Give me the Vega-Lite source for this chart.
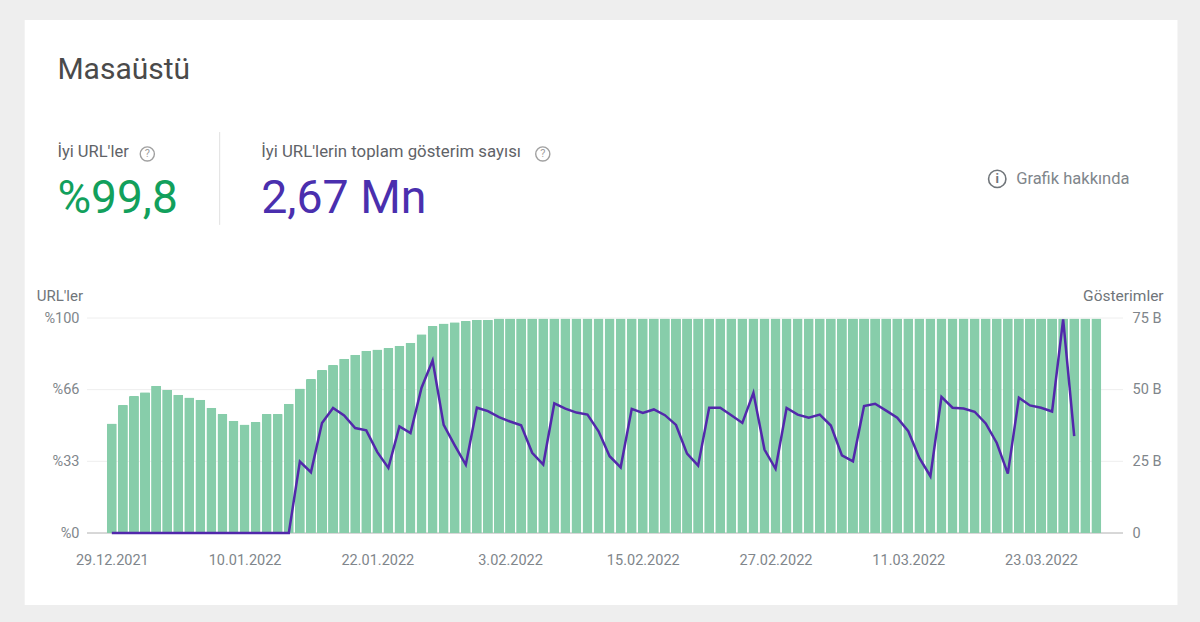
{
  "$schema": "https://vega.github.io/schema/vega-lite/v6.json",
  "autosize": "none",
  "width": 1036,
  "height": 215,
  "padding": {"left": 87, "right": 77, "top": 318, "bottom": 89},
  "background": "#eeeeee",
  "config": {"view": {"stroke": null}, "font": "Roboto"},
  "datasets": {
    "days": [
      {"date":"2021/12/29","urls":50.9,"impressions":0},{"date":"2021/12/30","urls":59.5,"impressions":0},{"date":"2021/12/31","urls":63.7,"impressions":0},
      {"date":"2022/01/01","urls":65.5,"impressions":0},{"date":"2022/01/02","urls":68.5,"impressions":0},{"date":"2022/01/03","urls":66.6,"impressions":0},
      {"date":"2022/01/04","urls":64.3,"impressions":0},{"date":"2022/01/05","urls":63,"impressions":0},{"date":"2022/01/06","urls":62,"impressions":0},
      {"date":"2022/01/07","urls":58.2,"impressions":0},{"date":"2022/01/08","urls":55.3,"impressions":0},{"date":"2022/01/09","urls":52.2,"impressions":0},
      {"date":"2022/01/10","urls":50.5,"impressions":0},{"date":"2022/01/11","urls":51.6,"impressions":0},{"date":"2022/01/12","urls":55.3,"impressions":0},
      {"date":"2022/01/13","urls":55.3,"impressions":0},{"date":"2022/01/14","urls":60.1,"impressions":0},{"date":"2022/01/15","urls":67.2,"impressions":24.9},
      {"date":"2022/01/16","urls":71.6,"impressions":21.2},{"date":"2022/01/17","urls":75.8,"impressions":38.4},{"date":"2022/01/18","urls":78.1,"impressions":43.6},
      {"date":"2022/01/19","urls":81,"impressions":41},{"date":"2022/01/20","urls":82.9,"impressions":36.6},{"date":"2022/01/21","urls":84.8,"impressions":35.8},
      {"date":"2022/01/22","urls":85.4,"impressions":28.2},{"date":"2022/01/23","urls":86,"impressions":22.7},{"date":"2022/01/24","urls":87.1,"impressions":37.2},
      {"date":"2022/01/25","urls":88.5,"impressions":34.9},{"date":"2022/01/26","urls":92.5,"impressions":50.7},{"date":"2022/01/27","urls":96.3,"impressions":60.2},
      {"date":"2022/01/28","urls":97.4,"impressions":37.7},{"date":"2022/01/29","urls":98,"impressions":30.6},{"date":"2022/01/30","urls":98.6,"impressions":23.8},
      {"date":"2022/01/31","urls":99.2,"impressions":43.7},{"date":"2022/02/01","urls":99.2,"impressions":42.5},{"date":"2022/02/02","urls":99.8,"impressions":40.4},
      {"date":"2022/02/03","urls":99.8,"impressions":38.9},{"date":"2022/02/04","urls":99.8,"impressions":37.6},{"date":"2022/02/05","urls":99.8,"impressions":28},
      {"date":"2022/02/06","urls":99.8,"impressions":23.9},{"date":"2022/02/07","urls":99.8,"impressions":45.2},{"date":"2022/02/08","urls":99.8,"impressions":43.4},
      {"date":"2022/02/09","urls":99.8,"impressions":42},{"date":"2022/02/10","urls":99.8,"impressions":41.3},{"date":"2022/02/11","urls":99.8,"impressions":35.5},
      {"date":"2022/02/12","urls":99.8,"impressions":26.8},{"date":"2022/02/13","urls":99.8,"impressions":22.9},{"date":"2022/02/14","urls":99.8,"impressions":43.3},
      {"date":"2022/02/15","urls":99.8,"impressions":41.9},{"date":"2022/02/16","urls":99.8,"impressions":43.1},{"date":"2022/02/17","urls":99.8,"impressions":41.1},
      {"date":"2022/02/18","urls":99.8,"impressions":37.7},{"date":"2022/02/19","urls":99.8,"impressions":27.7},{"date":"2022/02/20","urls":99.8,"impressions":23.5},
      {"date":"2022/02/21","urls":99.8,"impressions":43.7},{"date":"2022/02/22","urls":99.8,"impressions":43.7},{"date":"2022/02/23","urls":99.8,"impressions":41.1},
      {"date":"2022/02/24","urls":99.8,"impressions":38.4},{"date":"2022/02/25","urls":99.8,"impressions":48.9},{"date":"2022/02/26","urls":99.8,"impressions":29.1},
      {"date":"2022/02/27","urls":99.8,"impressions":22.4},{"date":"2022/02/28","urls":99.8,"impressions":43.6},{"date":"2022/03/01","urls":99.8,"impressions":41.3},
      {"date":"2022/03/02","urls":99.8,"impressions":40.2},{"date":"2022/03/03","urls":99.8,"impressions":41.3},{"date":"2022/03/04","urls":99.8,"impressions":37.5},
      {"date":"2022/03/05","urls":99.8,"impressions":27.1},{"date":"2022/03/06","urls":99.8,"impressions":25},{"date":"2022/03/07","urls":99.8,"impressions":44.3},
      {"date":"2022/03/08","urls":99.8,"impressions":45.1},{"date":"2022/03/09","urls":99.8,"impressions":42.7},{"date":"2022/03/10","urls":99.8,"impressions":40.2},
      {"date":"2022/03/11","urls":99.8,"impressions":35.5},{"date":"2022/03/12","urls":99.8,"impressions":26.2},{"date":"2022/03/13","urls":99.8,"impressions":19.8},
      {"date":"2022/03/14","urls":99.8,"impressions":47.5},{"date":"2022/03/15","urls":99.8,"impressions":43.7},{"date":"2022/03/16","urls":99.8,"impressions":43.4},
      {"date":"2022/03/17","urls":99.8,"impressions":42.3},{"date":"2022/03/18","urls":99.8,"impressions":38.2},{"date":"2022/03/19","urls":99.8,"impressions":31.4},
      {"date":"2022/03/20","urls":99.8,"impressions":20.7},{"date":"2022/03/21","urls":99.8,"impressions":47.2},{"date":"2022/03/22","urls":99.8,"impressions":44.5},
      {"date":"2022/03/23","urls":99.8,"impressions":43.7},{"date":"2022/03/24","urls":99.8,"impressions":42.4},{"date":"2022/03/25","urls":99.8,"impressions":74.5},
      {"date":"2022/03/26","urls":99.8,"impressions":33.8},{"date":"2022/03/27","urls":99.8,"impressions":null},{"date":"2022/03/28","urls":99.8,"impressions":null}
    ]
  },
  "layer": [
    {
      "layer": [
        {
          "data": {"values": [{"name": "card"}]},
          "mark": {"type": "rect", "color": "white"},
          "encoding": {
            "x": {"datum": {"year": 2021, "month": 12, "date": 29, "hours": -189}, "type": "temporal"},
            "x2": {"datum": {"year": 2021, "month": 12, "date": 29, "hours": 2312}},
            "y": {"datum": 238.6, "type": "quantitative"},
            "y2": {"datum": -33.5}
          }
        },
        {
          "data": {"values": [{"tick": 33.33}, {"tick": 66.67}, {"tick": 100}]},
          "mark": {"type": "rule", "color": "#eeeeee", "strokeWidth": 1},
          "encoding": {"y": {"field": "tick", "type": "quantitative"}}
        },
        {
          "data": {"values": [{"tick": 0}]},
          "mark": {"type": "rule", "color": "#b0b0b0", "strokeWidth": 1},
          "encoding": {"y": {"field": "tick", "type": "quantitative"}}
        },
        {
          "data": {"name": "days"},
          "mark": {"type": "bar", "color": "#87cdaa", "size": 10, "cornerRadiusTopLeft": 1, "cornerRadiusTopRight": 1},
          "encoding": {
            "x": {
              "field": "date",
              "type": "temporal",
              "title": null,
              "scale": {"nice": false, "domain": [{"year": 2021, "month": 12, "date": 29, "hours": -43}, {"year": 2021, "month": 12, "date": 29, "hours": 2183}]},
              "axis": {
                "zindex": 1,
                "grid": false,
                "domain": false,
                "ticks": false,
                "labelPadding": 20,
                "labelFont": "Roboto",
                "labelFontSize": 14.5,
                "labelColor": "#80868b",
                "labelOverlap": false,
                "format": "%-d.%m.%Y",
                "values": [
                  {"year": 2021, "month": 12, "date": 29},
                  {"year": 2022, "month": 1, "date": 10},
                  {"year": 2022, "month": 1, "date": 22},
                  {"year": 2022, "month": 2, "date": 3},
                  {"year": 2022, "month": 2, "date": 15},
                  {"year": 2022, "month": 2, "date": 27},
                  {"year": 2022, "month": 3, "date": 11},
                  {"year": 2022, "month": 3, "date": 23}
                ]
              }
            },
            "y": {
              "field": "urls",
              "type": "quantitative",
              "title": null,
              "scale": {"domain": [0, 100], "nice": false},
              "axis": {
                "zindex": 1,
                "grid": false,
                "domain": false,
                "ticks": false,
                "labelPadding": 8,
                "labelFont": "Roboto",
                "labelFontSize": 14.5,
                "labelColor": "#80868b",
                "values": [0, 33.33, 66.67, 100],
                "labelExpr": "'%' + floor(datum.value)"
              }
            }
          }
        },
        {
          "data": {"values": [{"name": "divider"}]},
          "mark": {"type": "rule", "color": "#e0e0e0", "strokeWidth": 1},
          "encoding": {
            "x": {"datum": {"year": 2021, "month": 12, "date": 29, "hours": 234}, "type": "temporal"},
            "y": {"datum": 186.5, "type": "quantitative"},
            "y2": {"datum": 143.3}
          }
        },
        {
          "data": {"values": [{"label": "Masaüstü"}]},
          "mark": {"type": "text", "align": "left", "baseline": "middle", "font": "Roboto", "fontSize": 30, "color": "#4a4a4a"},
          "encoding": {
            "text": {"field": "label"},
            "x": {"datum": {"year": 2021, "month": 12, "date": 29, "hours": -118}, "type": "temporal"},
            "y": {"datum": 215.3, "type": "quantitative"}
          }
        },
        {
          "data": {"values": [{"label": "İyi URL'ler"}]},
          "mark": {"type": "text", "align": "left", "baseline": "middle", "font": "Roboto", "fontSize": 16.5, "color": "#5f6368"},
          "encoding": {
            "text": {"field": "label"},
            "x": {"datum": {"year": 2021, "month": 12, "date": 29, "hours": -118}, "type": "temporal"},
            "y": {"datum": 177.2, "type": "quantitative"}
          }
        },
        {
          "data": {"values": [{"label": "%99,8"}]},
          "mark": {"type": "text", "align": "left", "baseline": "middle", "font": "Roboto", "fontSize": 46, "color": "#12a05c"},
          "encoding": {
            "text": {"field": "label"},
            "x": {"datum": {"year": 2021, "month": 12, "date": 29, "hours": -118}, "type": "temporal"},
            "y": {"datum": 155.3, "type": "quantitative"}
          }
        },
        {
          "data": {"values": [{"label": "İyi URL'lerin toplam gösterim sayısı"}]},
          "mark": {"type": "text", "align": "left", "baseline": "middle", "font": "Roboto", "fontSize": 16.8, "color": "#5f6368"},
          "encoding": {
            "text": {"field": "label"},
            "x": {"datum": {"year": 2021, "month": 12, "date": 29, "hours": 324}, "type": "temporal"},
            "y": {"datum": 177.2, "type": "quantitative"}
          }
        },
        {
          "data": {"values": [{"label": "2,67 Mn"}]},
          "mark": {"type": "text", "align": "left", "baseline": "middle", "font": "Roboto", "fontSize": 46.5, "color": "#4a2fae"},
          "encoding": {
            "text": {"field": "label"},
            "x": {"datum": {"year": 2021, "month": 12, "date": 29, "hours": 324}, "type": "temporal"},
            "y": {"datum": 155.3, "type": "quantitative"}
          }
        },
        {
          "data": {"values": [{"label": "Grafik hakkında"}]},
          "mark": {"type": "text", "align": "left", "baseline": "middle", "font": "Roboto", "fontSize": 16.5, "color": "#80868b"},
          "encoding": {
            "text": {"field": "label"},
            "x": {"datum": {"year": 2021, "month": 12, "date": 29, "hours": 1962}, "type": "temporal"},
            "y": {"datum": 164.7, "type": "quantitative"}
          }
        },
        {
          "data": {"values": [{"label": "URL'ler"}]},
          "mark": {"type": "text", "align": "left", "baseline": "middle", "font": "Roboto", "fontSize": 15, "color": "#70757a"},
          "encoding": {
            "text": {"field": "label"},
            "x": {"datum": {"year": 2021, "month": 12, "date": 29, "hours": -163}, "type": "temporal"},
            "y": {"datum": 110.2, "type": "quantitative"}
          }
        },
        {
          "data": {"values": [{"label": "Gösterimler"}]},
          "mark": {"type": "text", "align": "right", "baseline": "middle", "font": "Roboto", "fontSize": 15.5, "color": "#70757a"},
          "encoding": {
            "text": {"field": "label"},
            "x": {"datum": {"year": 2021, "month": 12, "date": 29, "hours": 2282}, "type": "temporal"},
            "y": {"datum": 110.2, "type": "quantitative"}
          }
        },
        {
          "data": {"values": [{"icon": "?"}]},
          "mark": {"type": "point", "shape": "circle", "size": 200, "filled": false, "color": "#a0a0a0", "strokeWidth": 1.4, "opacity": 1},
          "encoding": {
            "x": {"datum": {"year": 2021, "month": 12, "date": 29, "hours": 77}, "type": "temporal"},
            "y": {"datum": 176.3, "type": "quantitative"}
          }
        },
        {
          "data": {"values": [{"icon": "?"}]},
          "mark": {"type": "text", "align": "center", "baseline": "middle", "font": "Roboto", "fontSize": 11, "color": "#a0a0a0"},
          "encoding": {
            "text": {"field": "icon"},
            "x": {"datum": {"year": 2021, "month": 12, "date": 29, "hours": 77}, "type": "temporal"},
            "y": {"datum": 176.3, "type": "quantitative"}
          }
        },
        {
          "data": {"values": [{"icon": "?"}]},
          "mark": {"type": "point", "shape": "circle", "size": 200, "filled": false, "color": "#a0a0a0", "strokeWidth": 1.4, "opacity": 1},
          "encoding": {
            "x": {"datum": {"year": 2021, "month": 12, "date": 29, "hours": 935}, "type": "temporal"},
            "y": {"datum": 176.3, "type": "quantitative"}
          }
        },
        {
          "data": {"values": [{"icon": "?"}]},
          "mark": {"type": "text", "align": "center", "baseline": "middle", "font": "Roboto", "fontSize": 11, "color": "#a0a0a0"},
          "encoding": {
            "text": {"field": "icon"},
            "x": {"datum": {"year": 2021, "month": 12, "date": 29, "hours": 935}, "type": "temporal"},
            "y": {"datum": 176.3, "type": "quantitative"}
          }
        },
        {
          "data": {"values": [{"icon": "i"}]},
          "mark": {"type": "point", "shape": "circle", "size": 300, "filled": false, "color": "#70757a", "strokeWidth": 1.6, "opacity": 1},
          "encoding": {
            "x": {"datum": {"year": 2021, "month": 12, "date": 29, "hours": 1921}, "type": "temporal"},
            "y": {"datum": 164.7, "type": "quantitative"}
          }
        },
        {
          "data": {"values": [{"icon": "i"}]},
          "mark": {"type": "text", "align": "center", "baseline": "middle", "font": "Roboto", "fontSize": 13, "fontWeight": "bold", "color": "#70757a"},
          "encoding": {
            "text": {"field": "icon"},
            "x": {"datum": {"year": 2021, "month": 12, "date": 29, "hours": 1921}, "type": "temporal"},
            "y": {"datum": 164.7, "type": "quantitative"}
          }
        }
      ]
    },
    {
      "data": {"name": "days"},
      "mark": {"type": "line", "color": "#5228ab", "strokeWidth": 2.5, "interpolate": "linear"},
      "encoding": {
        "x": {"field": "date", "type": "temporal"},
        "y": {
          "field": "impressions",
          "type": "quantitative",
          "title": null,
          "scale": {"domain": [0, 75], "nice": false},
          "axis": {
            "orient": "right",
            "zindex": 1,
            "grid": false,
            "domain": false,
            "ticks": false,
            "labelPadding": 9,
            "labelFont": "Roboto",
            "labelFontSize": 14.5,
            "labelColor": "#80868b",
            "values": [0, 25, 50, 75],
            "labelExpr": "datum.value == 0 ? '0' : datum.value + ' B'"
          }
        }
      }
    }
  ],
  "resolve": {"scale": {"y": "independent"}, "axis": {"y": "independent"}}
}
